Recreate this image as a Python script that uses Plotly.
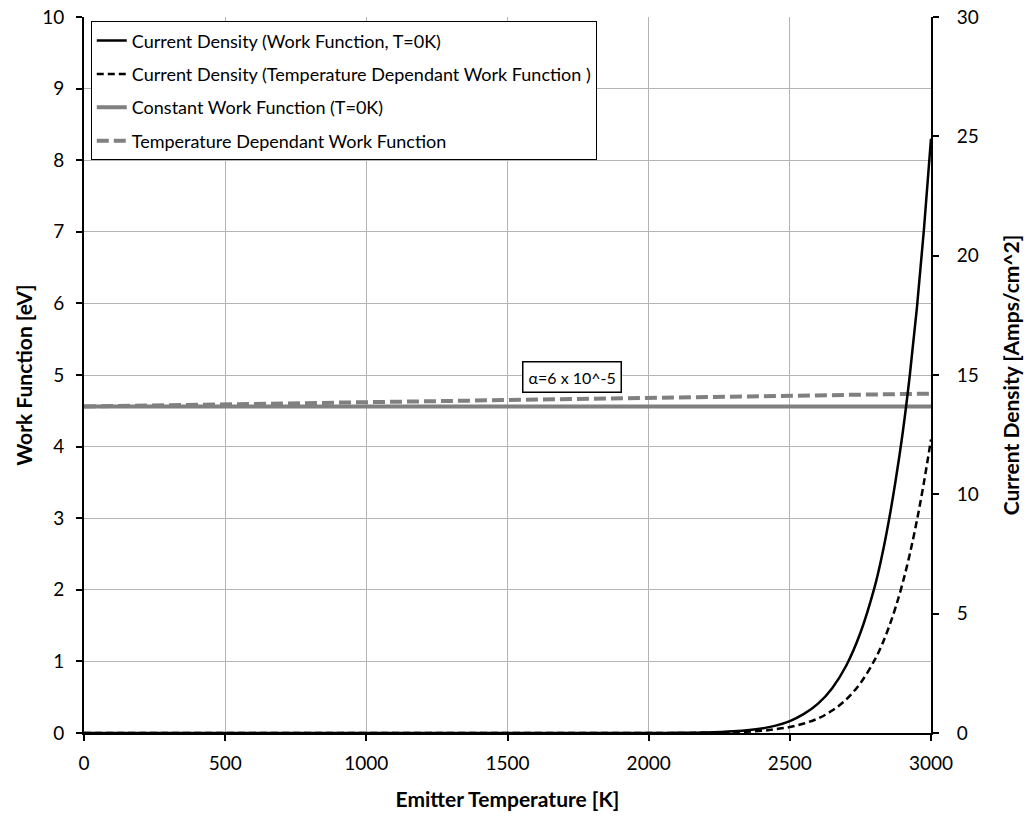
import plotly.graph_objects as go

# Emitter temperature samples [K]
temp_k = [0, 500, 1000, 1500, 2000, 2100, 2200, 2300, 2400, 2450, 2500, 2550,
          2600, 2650, 2700, 2750, 2800, 2825, 2850, 2875, 2900, 2925, 2950,
          2975, 3000]

# Current density [A/cm^2], work function fixed at its T=0K value
j_const_wf = [0, 0, 0, 0, 0.002, 0.006, 0.02, 0.07, 0.19, 0.31, 0.50, 0.80,
              1.23, 1.88, 2.83, 4.20, 6.10, 7.35, 8.85, 10.6, 12.6, 15.0, 17.8,
              21.1, 24.9]

# Current density [A/cm^2], temperature dependant work function
j_temp_wf = [0, 0, 0, 0, 0.001, 0.003, 0.01, 0.03, 0.09, 0.16, 0.25, 0.40,
             0.61, 0.94, 1.41, 2.09, 3.05, 3.66, 4.41, 5.28, 6.30, 7.50, 8.90,
             10.5, 12.3]

# Work function curves [eV]
wf_temp = [0, 500, 1000, 1500, 2000, 2500, 3000]
wf_const = [4.56, 4.56, 4.56, 4.56, 4.56, 4.56, 4.56]
wf_linear = [4.56, 4.59, 4.62, 4.65, 4.68, 4.71, 4.74]

alpha_label = "α=6 x 10^-5"

FONT = "Lato"
GRAY = "#808080"

fig = go.Figure()

fig.add_trace(go.Scatter(
    x=wf_temp, y=wf_const, mode="lines", yaxis="y",
    name="Constant Work Function (T=0K)", legendgroup="c", legendrank=3,
    line=dict(color=GRAY, width=4)))
fig.add_trace(go.Scatter(
    x=wf_temp, y=wf_linear, mode="lines", yaxis="y",
    name="Temperature Dependant Work Function", legendgroup="d", legendrank=4,
    line=dict(color=GRAY, width=4, dash="12px,5px")))
fig.add_trace(go.Scatter(
    x=temp_k, y=j_const_wf, mode="lines", yaxis="y2",
    name="Current Density (Work Function, T=0K)", legendgroup="a", legendrank=1,
    line=dict(color="black", width=2.5, shape="spline", smoothing=1.0)))
fig.add_trace(go.Scatter(
    x=temp_k, y=j_temp_wf, mode="lines", yaxis="y2",
    name="Current Density (Temperature Dependant Work Function )",
    legendgroup="b", legendrank=2,
    line=dict(color="black", width=2.5, dash="7px,4px", shape="spline",
              smoothing=1.0)))

axis_common = dict(
    showline=True, linecolor="black", linewidth=2,
    ticks="outside", ticklen=6, tickwidth=2, tickcolor="black",
    tickfont=dict(family=FONT, size=19, color="black"),
    zeroline=False, automargin=False,
)

fig.update_layout(
    width=1029, height=818,
    margin=dict(l=84, r=98, t=17, b=85),
    paper_bgcolor="white", plot_bgcolor="white",
    font=dict(family=FONT, color="black"),
    xaxis=dict(
        range=[0, 3000], dtick=500, tick0=0,
        showgrid=True, gridcolor="#b4b4b4", gridwidth=1,
        ticklabelstandoff=6,
        title=dict(text="<b>Emitter Temperature [K]</b>",
                   font=dict(family=FONT, size=21), standoff=20),
        **axis_common),
    yaxis=dict(
        range=[0, 10], dtick=1, tick0=0,
        showgrid=True, gridcolor="#b4b4b4", gridwidth=1,
        ticklabelstandoff=8,
        title=dict(text="<b>Work Function [eV]</b>",
                   font=dict(family=FONT, size=21), standoff=4),
        **axis_common),
    yaxis2=dict(
        range=[0, 30], dtick=5, tick0=0, overlaying="y", side="right",
        showgrid=False, ticklabelstandoff=14,
        title=dict(text="<b>Current Density [Amps/cm^2]</b>",
                   font=dict(family=FONT, size=21), standoff=26),
        **axis_common),
    legend=dict(
        x=0.008, y=0.994, xanchor="left", yanchor="top",
        bgcolor="white", bordercolor="black", borderwidth=1,
        font=dict(family=FONT, size=18, color="black"),
        tracegroupgap=7, itemwidth=30,
    ),
    showlegend=True,
)

fig.add_annotation(
    x=1728, y=4.97, xref="x", yref="y", text=alpha_label, showarrow=False,
    font=dict(family=FONT, size=16, color="black"),
    bordercolor="black", borderwidth=1.5, borderpad=5, bgcolor="white",
)

fig.write_html("out.html")
